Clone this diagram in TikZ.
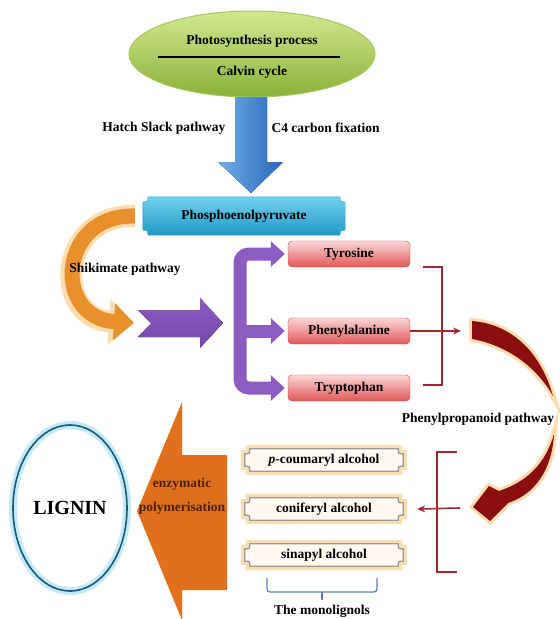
\documentclass[tikz,border=0pt]{standalone}
\usepackage{fontspec}
\setmainfont{Liberation Serif}
\usetikzlibrary{shapes.geometric,arrows.meta}
\definecolor{leaftop}{HTML}{D2E890}
\definecolor{leafbot}{HTML}{8AB23A}
\definecolor{leafline}{HTML}{A6C85E}
\definecolor{skylight}{HTML}{6FAEEA}
\definecolor{skydark}{HTML}{2A66B8}
\definecolor{peptop}{HTML}{72D2EE}
\definecolor{pepbot}{HTML}{2099C4}
\definecolor{shikorange}{HTML}{E8902C}
\definecolor{shikglow}{HTML}{FCDDB0}
\definecolor{purp}{HTML}{8C5CC0}
\definecolor{purpdark}{HTML}{7647AA}
\definecolor{pinktop}{HTML}{FBD6D6}
\definecolor{redbot}{HTML}{E25858}
\definecolor{redline}{HTML}{D24848}
\definecolor{brkred}{HTML}{A3262E}
\definecolor{crsred}{HTML}{8A0E0E}
\definecolor{bigorange}{HTML}{E0701C}
\definecolor{enzbrown}{HTML}{4A1E08}
\definecolor{ligline}{HTML}{1C5A78}
\definecolor{ligglow}{HTML}{C4EAF8}
\definecolor{brcblue}{HTML}{5B82B4}
\pgfdeclarelayer{back}
\pgfsetlayers{back,main}
\newcommand\plaque[2]{\begin{pgfonlayer}{back}
  \path[#2] ([xshift=5pt]#1.north west) -- ([xshift=-5pt]#1.north east)
    .. controls ([xshift=-5pt,yshift=-5pt]#1.north east) .. ([yshift=-5pt]#1.north east)
    -- ([yshift=5pt]#1.south east)
    .. controls ([xshift=-5pt,yshift=5pt]#1.south east) .. ([xshift=-5pt]#1.south east)
    -- ([xshift=5pt]#1.south west)
    .. controls ([xshift=5pt,yshift=5pt]#1.south west) .. ([yshift=5pt]#1.south west)
    -- ([yshift=-5pt]#1.north west)
    .. controls ([xshift=5pt,yshift=-5pt]#1.north west) .. ([xshift=5pt]#1.north west) -- cycle;
  \end{pgfonlayer}}

\begin{document}
\begin{tikzpicture}
    [x=1pt, y=-1pt, font=\fontsize{13.5}{15}\selectfont\bfseries,
     leafell/.style={ellipse, minimum width=246pt, minimum height=86pt, draw=leafline, line width=1pt, top color=leaftop, bottom color=leafbot},
     pepbox/.style={rectangle, minimum width=202pt, minimum height=38pt, inner sep=0pt},
     pepfill/.style={draw=pepbot, top color=peptop, bottom color=pepbot},
     redbox/.style={rectangle, rounded corners=4pt, minimum width=122pt, minimum height=26pt, draw=redline, top color=pinktop, bottom color=redbot},
     monobox/.style={rectangle, minimum width=158pt, minimum height=22pt, inner sep=0pt},
     monofill/.style={draw=gray!80, line width=1.3pt, fill=orange!5, preaction={draw=shikglow, line width=8pt}},
     shik/.style={draw=shikorange, line width=15pt, -{Triangle[width=36pt,length=20pt]}, preaction={draw=shikglow, line width=22pt, -{Triangle[width=44pt,length=25pt]}}},
     pbr/.style={draw=purp, line width=13pt, rounded corners=9pt},
     brk/.style={draw=brkred, line width=1.6pt},
     crs/.style={fill=crsred, preaction={draw=shikglow, line width=6pt}},
     brc/.style={draw=brcblue, line width=1.3pt, rounded corners=3pt},
     enz/.style={text=enzbrown},
     lig/.style={ellipse, minimum width=114pt, minimum height=166pt, draw=ligline, line width=1.6pt, font=\fontsize{20}{22}\selectfont\bfseries, preaction={draw=ligglow, line width=8pt}}]
    \useasboundingbox (0,0) rectangle (560,619);
    \begin{pgfonlayer}{back}
      \fill[white] (0,0) rectangle (560,619);
    \end{pgfonlayer}
    \node[leafell] (ps) at (252,54) {};
    \node (pst) at (252,41) {Photosynthesis process};
    \node (cc) at (252,72) {Calvin cycle};
    \draw[line width=1.6pt] (158,57) -- (340,57);
    \fill[left color=skylight, right color=skydark] (235,97) -- (267,97) -- (267,162) -- (283,162) -- (251,193) -- (218,162) -- (235,162) -- cycle;
    \node[anchor=east] (hs) at (229,128) {Hatch Slack pathway};
    \node[anchor=west] (c4) at (268,128) {C4 carbon fixation};
    \node[pepbox] (pep) at (244,216) {Phosphoenolpyruvate};
    \plaque{pep}{pepfill}
    \coordinate (pa) at (134,323);
    \draw[shik] ([xshift=-8pt]pep.west) .. controls (58,214) and (52,318) .. (pa);
    \node (sk) at (125,269) {Shikimate pathway};
    \fill[top color=purp, bottom color=purpdark] (138,310) -- (200,310) -- (200,298) -- (223,323) -- (200,348) -- (200,337) -- (138,337) -- (151,323.5) -- cycle;
    \node[redbox] (ty) at (349,254) {Tyrosine};
    \node[redbox] (ph) at (349,331) {Phenylalanine};
    \node[redbox] (tr) at (349,388) {Tryptophan};
    \draw[pbr, {Triangle[width=25pt,length=14pt]}-{Triangle[width=25pt,length=14pt]}] ([xshift=-3pt]ty.west) -| (240,330) |- ([xshift=-3pt]tr.west);
    \draw[pbr, -{Triangle[width=25pt,length=14pt]}] (240,331) -- ([xshift=-3pt]ph.west);
    \draw[brk] (423,267) -| (442,385) -- (423,385);
    \coordinate (cr) at (461,331);
    \draw[brk, -{Stealth[length=8pt,width=7pt]}] (ph.east) -- (cr);
    \fill[crs] (472,321) .. controls (510,324) and (540,350) .. (553,396) .. controls (536,366) and (506,345) .. (472,339) -- cycle;
    \node (pp) at (478,419) {Phenylpropanoid pathway};
    \fill[crs] (554,434) .. controls (552,470) and (535,494) .. (508,503) -- (490,521) -- (473,507) -- (489,486) -- (499,491) .. controls (526,482) and (545,465) .. (554,434) -- cycle;
    \node[monobox] (pc) at (324,460) {\textit{p}-coumaryl alcohol};
    \node[monobox] (co) at (324,509) {coniferyl alcohol};
    \node[monobox] (sa) at (324,555) {sinapyl alcohol};
    \plaque{pc}{monofill}
    \plaque{co}{monofill}
    \plaque{sa}{monofill}
    \draw[brk] (457,452) -- (437,452) -- (437,572) -- (457,572);
    \coordinate (cl) at (460,508);
    \draw[brk, -{Stealth[length=8pt,width=7pt]}] (cl) -- ([xshift=14pt]co.east);
    \draw[brc] (267,578) |- (322,592) -| (377,578);
    \draw[brc] (322,592) -- (322,600);
    \node (ml) at (322,611) {The monolignols};
    \fill[bigorange] (227,455) -- (182,455) -- (182,402) -- (137,511) -- (182,620) -- (182,590) -- (227,590) -- cycle;
    \node[enz] (en) at (182,484) {enzymatic};
    \node[enz] (po) at (182,508) {polymerisation};
    \node[lig] (lg) at (70,508) {LIGNIN};
\end{tikzpicture}
\end{document}
